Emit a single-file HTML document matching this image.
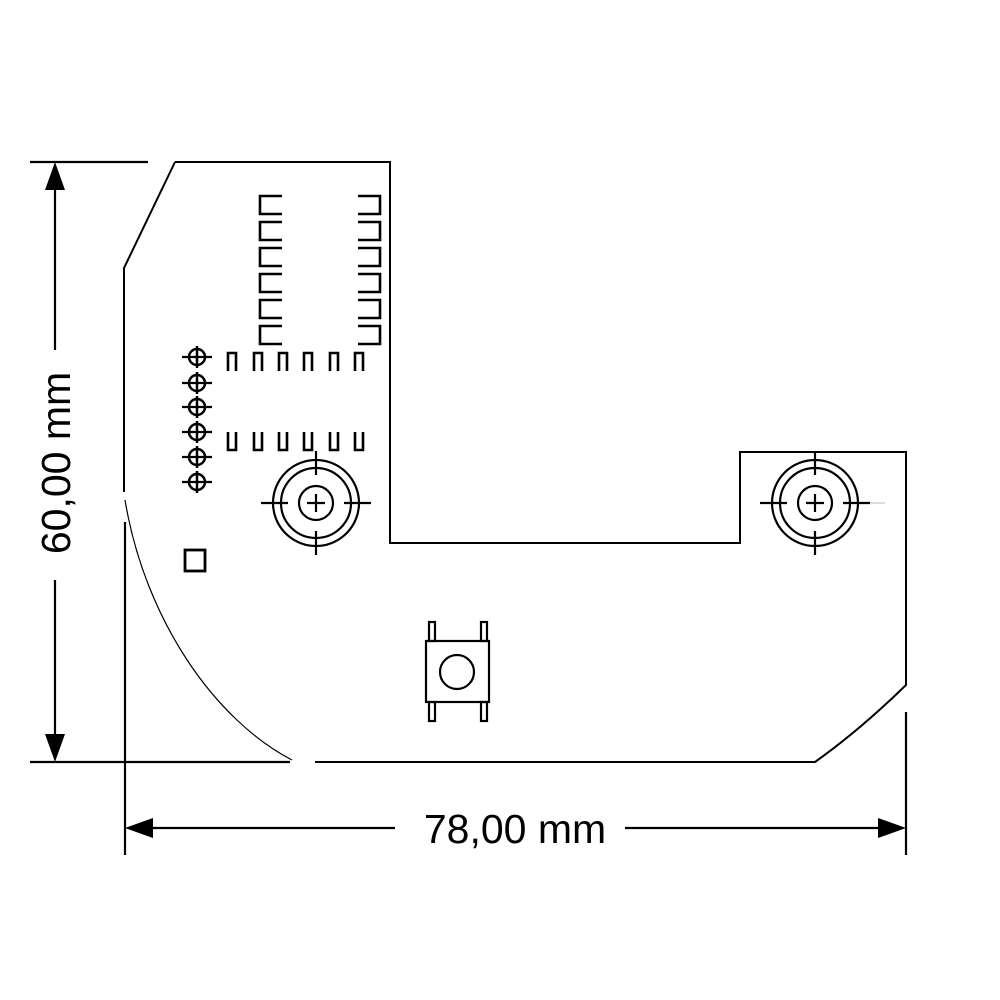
<!DOCTYPE html>
<html><head><style>html,body{margin:0;padding:0;background:#fff}svg{display:block}</style></head>
<body>
<svg width="1000" height="1000" viewBox="0 0 1000 1000" xmlns="http://www.w3.org/2000/svg">
<defs>
<g id="ch"><circle r="8" fill="none" stroke="#000" stroke-width="2.5"/><line x1="-15" y1="0" x2="15" y2="0" stroke="#000" stroke-width="2.2"/><line x1="0" y1="-11" x2="0" y2="11" stroke="#000" stroke-width="2.5"/></g>
<g id="mh" fill="none" stroke="#000" stroke-width="2.2"><circle r="43"/><circle r="35"/><circle r="17"/><line x1="-55" y1="0" x2="-28" y2="0"/><line x1="28" y1="0" x2="55" y2="0"/><line x1="0" y1="-52" x2="0" y2="-28"/><line x1="0" y1="28" x2="0" y2="52"/><line x1="-9" y1="0" x2="9" y2="0"/><line x1="0" y1="-9" x2="0" y2="9"/></g>
<path id="pl" d="M22,0 H0 V18 H22" fill="none" stroke="#000" stroke-width="2.6"/>
<path id="pr" d="M0,0 H22 V18 H0" fill="none" stroke="#000" stroke-width="2.6"/>
<path id="pt" d="M0,18 V0 H8 V18" fill="none" stroke="#000" stroke-width="2.6"/>
<path id="pb" d="M0,0 V18 H8 V0" fill="none" stroke="#000" stroke-width="2.6"/>
</defs>
<path d="M175,162 H390 V543 H740 V452 H906 V685 Q860,730 815,762 H315" fill="none" stroke="#000" stroke-width="2"/>
<path d="M175,162 L124,268 V492" fill="none" stroke="#000" stroke-width="2"/>
<path d="M125,500 C145,620 215,720 292,760" fill="none" stroke="#000" stroke-width="1.2"/>
<g transform="translate(260,0)">
<use href="#pl" y="196"/><use href="#pl" y="222"/><use href="#pl" y="248"/><use href="#pl" y="274"/><use href="#pl" y="300"/><use href="#pl" y="326"/>
</g>
<g transform="translate(358,0)">
<use href="#pr" y="196"/><use href="#pr" y="222"/><use href="#pr" y="248"/><use href="#pr" y="274"/><use href="#pr" y="300"/><use href="#pr" y="326"/>
</g>
<g transform="translate(0,353)"><use href="#pt" x="228"/><use href="#pt" x="254"/><use href="#pt" x="279"/><use href="#pt" x="304"/><use href="#pt" x="330"/><use href="#pt" x="355"/></g>
<g transform="translate(0,432)"><use href="#pb" x="228"/><use href="#pb" x="254"/><use href="#pb" x="279"/><use href="#pb" x="304"/><use href="#pb" x="330"/><use href="#pb" x="355"/></g>
<use href="#ch" x="197" y="357"/><use href="#ch" x="197" y="383"/><use href="#ch" x="197" y="407"/><use href="#ch" x="197" y="432"/><use href="#ch" x="197" y="457"/><use href="#ch" x="197" y="482"/>
<use href="#mh" x="316" y="503"/><use href="#mh" x="815" y="503"/>
<line x1="870" y1="503" x2="885" y2="503" stroke="#bbb" stroke-width="1"/>
<rect x="185" y="550" width="20" height="21" fill="none" stroke="#000" stroke-width="2.8"/>
<g fill="none" stroke="#000" stroke-width="2.2">
<rect x="426" y="641" width="63" height="61"/>
<circle cx="457" cy="672" r="17"/>
<rect x="429" y="622" width="6" height="19"/><rect x="481" y="622" width="6" height="19"/>
<rect x="429" y="702" width="6" height="19"/><rect x="481" y="702" width="6" height="19"/>
</g>
<g stroke="#000" stroke-width="2.2">
<line x1="30" y1="162" x2="148" y2="162"/>
<line x1="30" y1="762" x2="290" y2="762"/>
<line x1="55" y1="185" x2="55" y2="350"/>
<line x1="55" y1="580" x2="55" y2="740"/>
<line x1="125" y1="522" x2="125" y2="855"/>
<line x1="906" y1="712" x2="906" y2="855"/>
<line x1="148" y1="828" x2="395" y2="828"/>
<line x1="625" y1="828" x2="883" y2="828"/>
</g>
<polygon points="55,162 45,190 65,190"/>
<polygon points="55,762 45,734 65,734"/>
<polygon points="125,828 153,818 153,838"/>
<polygon points="906,828 878,818 878,838"/>
<text x="515" y="843" text-anchor="middle" font-family="Liberation Sans, sans-serif" font-size="41">78,00 mm</text>
<text transform="translate(70,463) rotate(-90)" text-anchor="middle" font-family="Liberation Sans, sans-serif" font-size="41">60,00 mm</text>
</svg>
</body></html>
